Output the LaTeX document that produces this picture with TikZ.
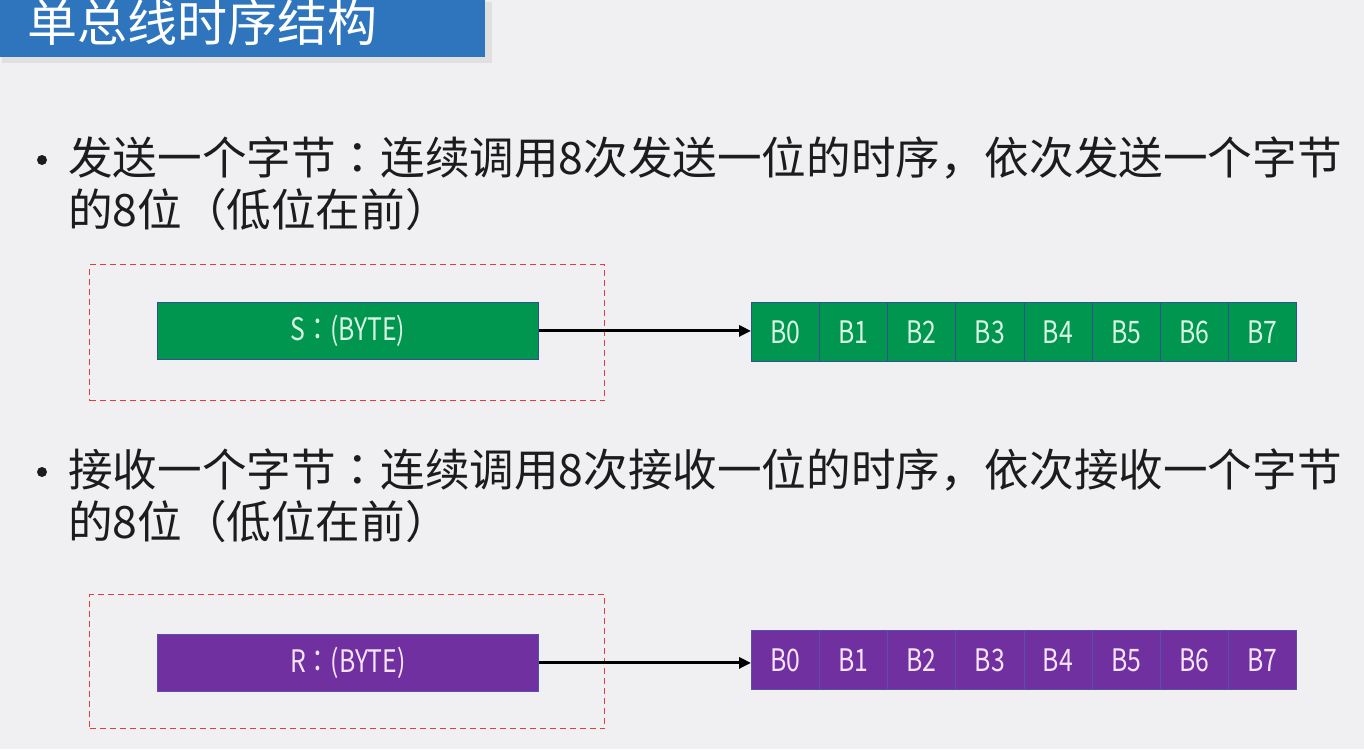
\documentclass[tikz,border=0pt]{standalone}
\usepackage{fontspec}
\setmainfont{Noto Sans CJK SC}
\newfontfamily\cjkfont{Noto Sans CJK SC}
\newfontfamily\tcfont{Noto Sans CJK TC}
\newfontfamily\boxfont[FakeStretch=0.8]{Noto Sans CJK SC}
\newfontfamily\boxtcfont[FakeStretch=0.8]{Noto Sans CJK TC}
\usetikzlibrary{arrows.meta}
\definecolor{bgc}{RGB}{240,240,243}
\definecolor{titleblue}{RGB}{46,117,190}
\definecolor{bytegreen}{RGB}{0,150,80}
\definecolor{bytepurple}{RGB}{112,48,160}
\definecolor{greenedge}{RGB}{47,82,143}
\definecolor{purpleedge}{RGB}{90,80,170}
\definecolor{dashred}{RGB}{228,60,60}
\definecolor{bodytext}{RGB}{28,28,28}
\definecolor{greentext}{RGB}{215,245,225}
\definecolor{purpletext}{RGB}{245,228,250}
\tikzset{
  bodyline/.style={anchor=base west, inner sep=0pt, text=bodytext, font=\cjkfont\fontsize{44.6}{44.6}\selectfont},
  dotmark/.style={circle, fill=bodytext, inner sep=0pt, minimum size=10pt},
  framebox/.style={draw=dashred, line width=1pt, dash pattern=on 6pt off 4pt},
  bigbox/.style={anchor=north west, minimum width=381pt, minimum height=57pt, inner sep=0pt, line width=0.8pt, font=\boxfont\fontsize{31}{31}\selectfont},
  cellbox/.style={anchor=north west, minimum width=68.125pt, minimum height=59pt, inner sep=0pt, line width=0.8pt, font=\boxfont\fontsize{31}{31}\selectfont},
  greenbox/.style={fill=bytegreen, draw=greenedge, text=greentext},
  purplebox/.style={fill=bytepurple, draw=purpleedge, text=purpletext},
  linkarrow/.style={draw=black, line width=3pt, -{Triangle[length=12pt,width=11pt]}}
}
\begin{document}
\begin{tikzpicture}[x=1pt,y=-1pt]
\useasboundingbox (0,0) rectangle (1364,749);
\fill[bgc] (0,0) rectangle (1364,749);
% title bar
\fill[black!22] (2,2) rectangle (490,61);
\fill[black!12] (2,2) rectangle (492,63);
\fill[titleblue] (0,0) rectangle (485,57);
\node[anchor=base west, inner sep=0pt, text=white, font=\cjkfont\fontsize{50}{50}\selectfont] (title) at (27,42) {单总线时序结构};
% first bullet
\node[dotmark] (d1) at (42,160) {};
\node[bodyline] (t1a) at (68,174) {发送一个字节{\tcfont ：}连续调用8次发送一位的时序，依次发送一个字节};
\node[bodyline] (t1b) at (68,226) {的8位（低位在前）};
\node[framebox, anchor=north west, minimum width=515pt, minimum height=136pt, inner sep=0pt] (f1) at (89,264) {};
\node[bigbox, greenbox] (sbox) at (157,302) {S{\boxtcfont ：}(BYTE)};
\foreach \i in {0,...,7} {
  \node[cellbox, greenbox] (s\i) at ({751+68.125*\i},302) {B\i};
}
\draw[linkarrow] (sbox.east) -- (sbox.east -| s0.west);
% second bullet
\node[dotmark] (d2) at (42,472) {};
\node[bodyline] (t2a) at (68,486) {接收一个字节{\tcfont ：}连续调用8次接收一位的时序，依次接收一个字节};
\node[bodyline] (t2b) at (68,538) {的8位（低位在前）};
\node[framebox, anchor=north west, minimum width=515pt, minimum height=134pt, inner sep=0pt] (f2) at (89,594) {};
\node[bigbox, purplebox] (rbox) at (157,634) {R{\boxtcfont ：}(BYTE)};
\foreach \i in {0,...,7} {
  \node[cellbox, purplebox] (r\i) at ({751+68.125*\i},630) {B\i};
}
\draw[linkarrow] (rbox.east) -- (rbox.east -| r0.west);
\end{tikzpicture}
\end{document}
